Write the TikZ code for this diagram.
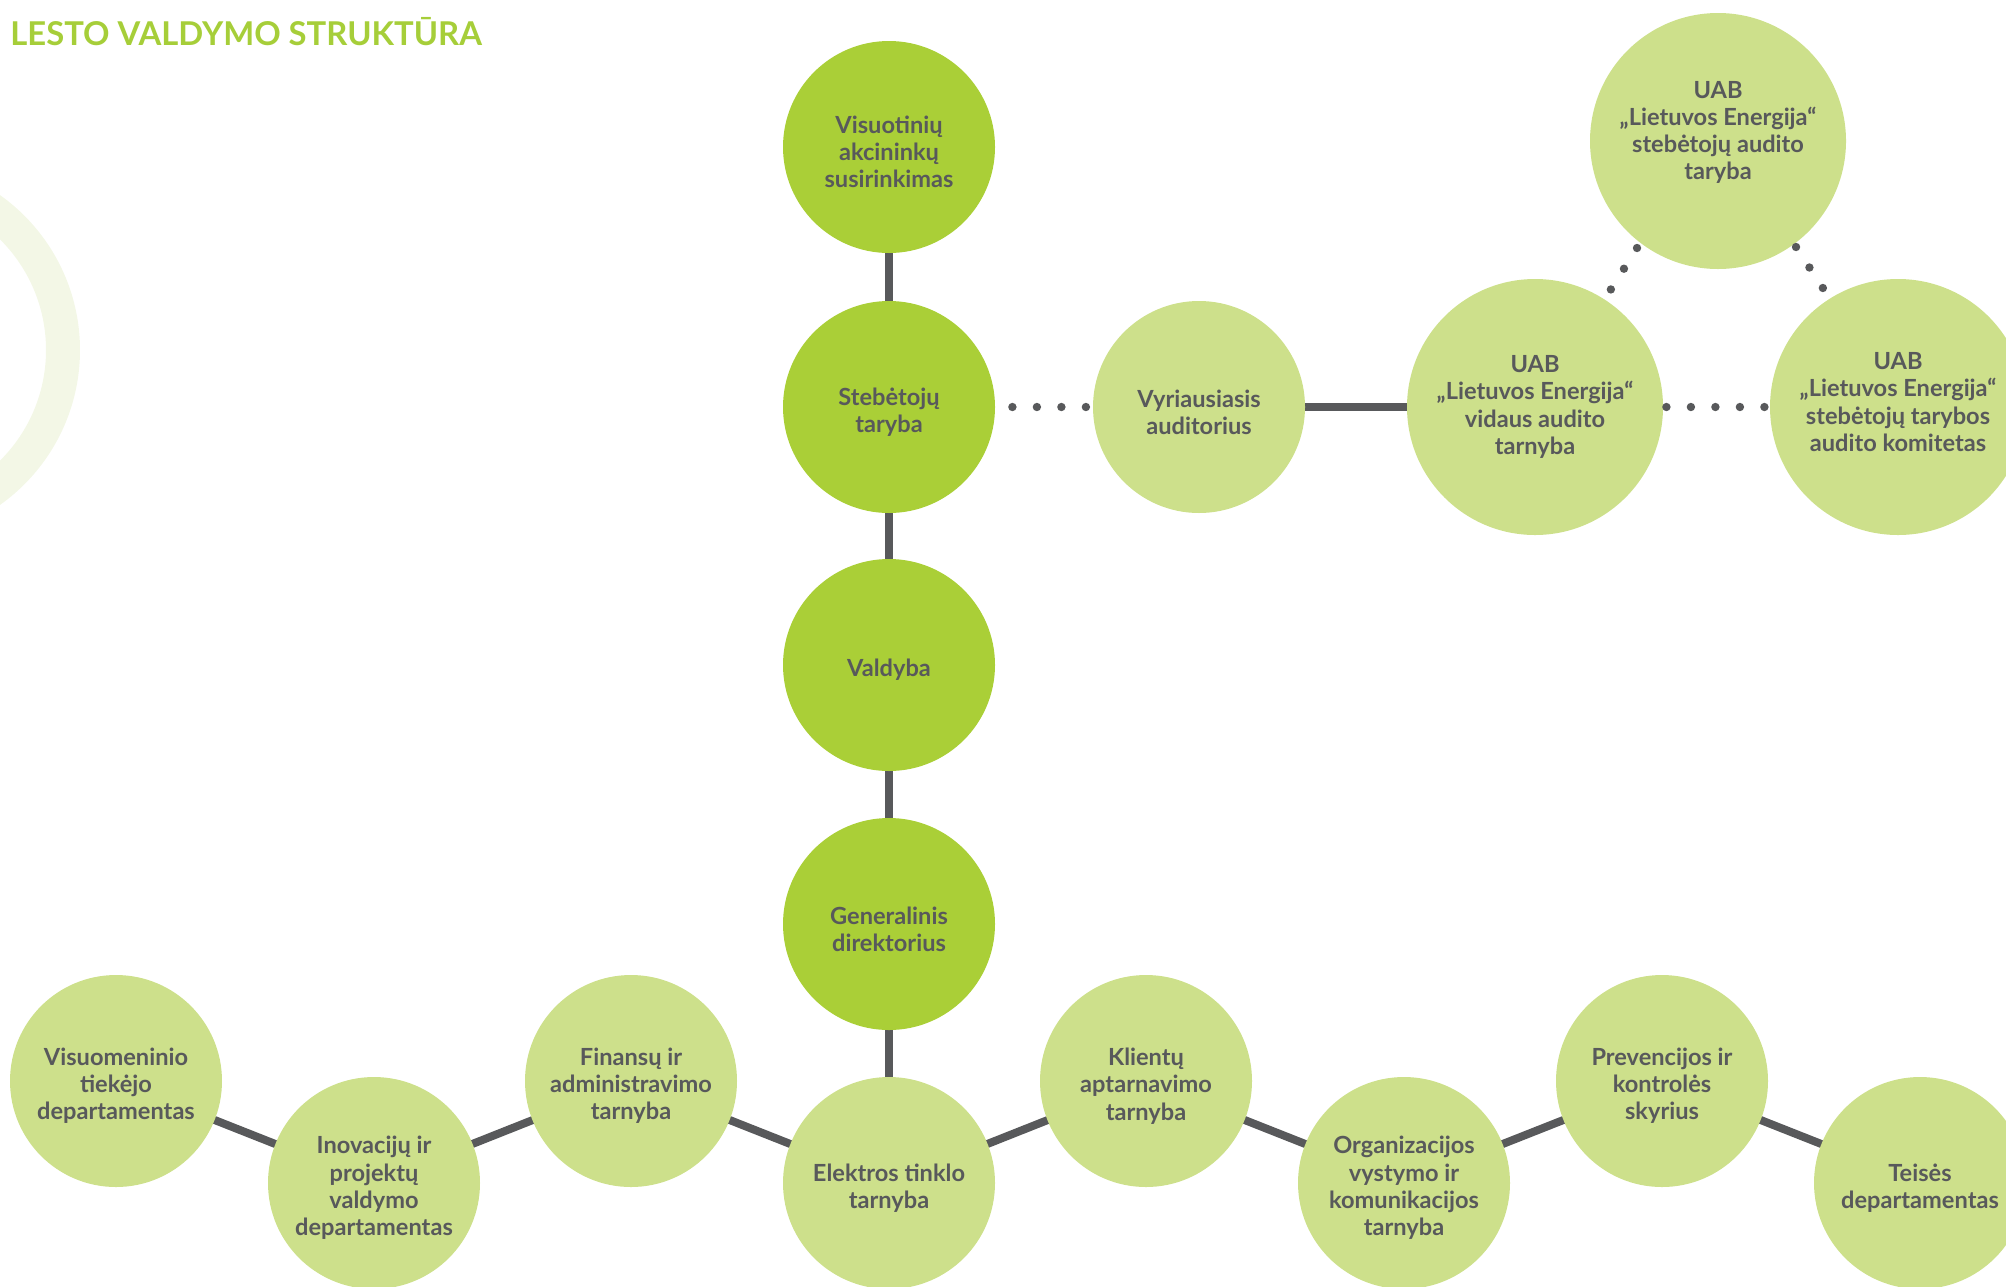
\documentclass[tikz,border=0pt]{standalone}
\usepackage{fontspec}
\setmainfont{Lato}
\usetikzlibrary{backgrounds}
\definecolor{dgreen}{HTML}{AACF37}
\definecolor{lgreen}{HTML}{CDE08B}
\definecolor{txt}{HTML}{58595B}
\definecolor{ringc}{HTML}{F3F7E6}
\definecolor{titlec}{HTML}{A6CE39}
\begin{document}
\begin{tikzpicture}[x=0.5pt,y=-0.5pt,
  unit/.style={circle, inner sep=0pt, minimum size=106pt},
  dark/.style={unit, fill=dgreen},
  light/.style={unit, fill=lgreen},
  big/.style={light, minimum size=128pt},
  lbl/.style={inner sep=0pt, align=center, text=txt,
    font=\fontsize{11.8}{13.6}\selectfont\bfseries},
  link/.style={draw=txt, line width=4pt},
  dotline/.style={draw=txt, line width=4.2pt, line cap=round, dash pattern=on 0pt off 12.25pt}]
\useasboundingbox (0,0) rectangle (2006,1286);
\clip (0,0) rectangle (2006,1286);
% faint ring
\draw[ringc, line width=17pt] (-110,350) circle [radius=86.5pt];
% title
\node[anchor=base west, inner sep=0pt, text=titlec, font=\fontsize{16.4}{19}\selectfont\bfseries] (title) at (10,45.5) {LESTO VALDYMO STRUKTŪRA};
% main column
\node[dark] (vas) at (889,147) {};
\node[dark] (st) at (889,407) {};
\node[dark] (val) at (889,665) {};
\node[dark] (gd) at (889,924) {};
% audit branch
\node[light] (va) at (1199,407) {};
\node[big] (vid) at (1535,407) {};
\node[big] (sat) at (1718,141) {};
\node[big] (kom) at (1898,407) {};
% bottom row
\node[light] (vis) at (116,1081) {};
\node[light] (ino) at (374,1183) {};
\node[light] (fin) at (631,1081) {};
\node[light] (el) at (889,1183) {};
\node[light] (kl) at (1146,1081) {};
\node[light] (org) at (1404,1183) {};
\node[light] (pre) at (1662,1081) {};
\node[light] (tei) at (1920,1183) {};
% labels
\node[lbl] (vas-t) at ([yshift=-2.5pt]vas.center) {Visuotinių\\akcininkų\\susirinkimas};
\node[lbl] (st-t) at ([yshift=-2.5pt]st.center) {Stebėtojų\\taryba};
\node[lbl] (val-t) at ([yshift=-2.5pt]val.center) {Valdyba};
\node[lbl] (gd-t) at ([yshift=-2.5pt]gd.center) {Generalinis\\direktorius};
\node[lbl] (va-t) at ([yshift=-2.5pt]va.center) {Vyriausiasis\\auditorius};
\node[lbl] (vid-t) at (vid.center) {UAB\\„Lietuvos Energija“\\vidaus audito\\tarnyba};
\node[lbl] (sat-t) at ([yshift=4.2pt]sat.center) {UAB\\„Lietuvos Energija“\\stebėtojų audito\\taryba};
\node[lbl] (kom-t) at ([yshift=2.5pt]kom.center) {UAB\\„Lietuvos Energija“\\stebėtojų tarybos\\audito komitetas};
\node[lbl] (vis-t) at ([yshift=-2.5pt]vis.center) {Visuomeninio\\tiekėjo\\departamentas};
\node[lbl] (ino-t) at ([yshift=-2.5pt]ino.center) {Inovacijų ir\\projektų\\valdymo\\departamentas};
\node[lbl] (fin-t) at ([yshift=-2.5pt]fin.center) {Finansų ir\\administravimo\\tarnyba};
\node[lbl] (el-t) at ([yshift=-2.5pt]el.center) {Elektros tinklo\\tarnyba};
\node[lbl] (kl-t) at ([yshift=-2.5pt]kl.center) {Klientų\\aptarnavimo\\tarnyba};
\node[lbl] (org-t) at ([yshift=-2.5pt]org.center) {Organizacijos\\vystymo ir\\komunikacijos\\tarnyba};
\node[lbl] (pre-t) at ([yshift=-2.5pt]pre.center) {Prevencijos ir\\kontrolės\\skyrius};
\node[lbl] (tei-t) at ([yshift=-2.5pt]tei.center) {Teisės\\departamentas};
% connectors
\begin{scope}[on background layer]
\draw[link] (vas.center) -- (st.center);
\draw[link] (st.center) -- (val.center);
\draw[link] (val.center) -- (gd.center);
\draw[link] (gd.center) -- (el.center);
\draw[link] (va.center) -- (vid.center);
\draw[link] (vis.center) -- (ino.center) -- (fin.center) -- (el.center) -- (kl.center) -- (org.center) -- (pre.center) -- (tei.center);
\end{scope}
% dotted connectors
\draw[dotline] ([xshift=8.5pt]st.east) -- (va.west);
\draw[dotline] ([xshift=1.5pt]vid.east) -- (kom.west);
\coordinate (la) at (1637,248);
\coordinate (lb) at (1610.5,290);
\coordinate (ra) at (1796,247);
\coordinate (rb) at (1823.5,289);
\draw[dotline] (la) -- (lb);
\draw[dotline] (ra) -- (rb);
\end{tikzpicture}
\end{document}
